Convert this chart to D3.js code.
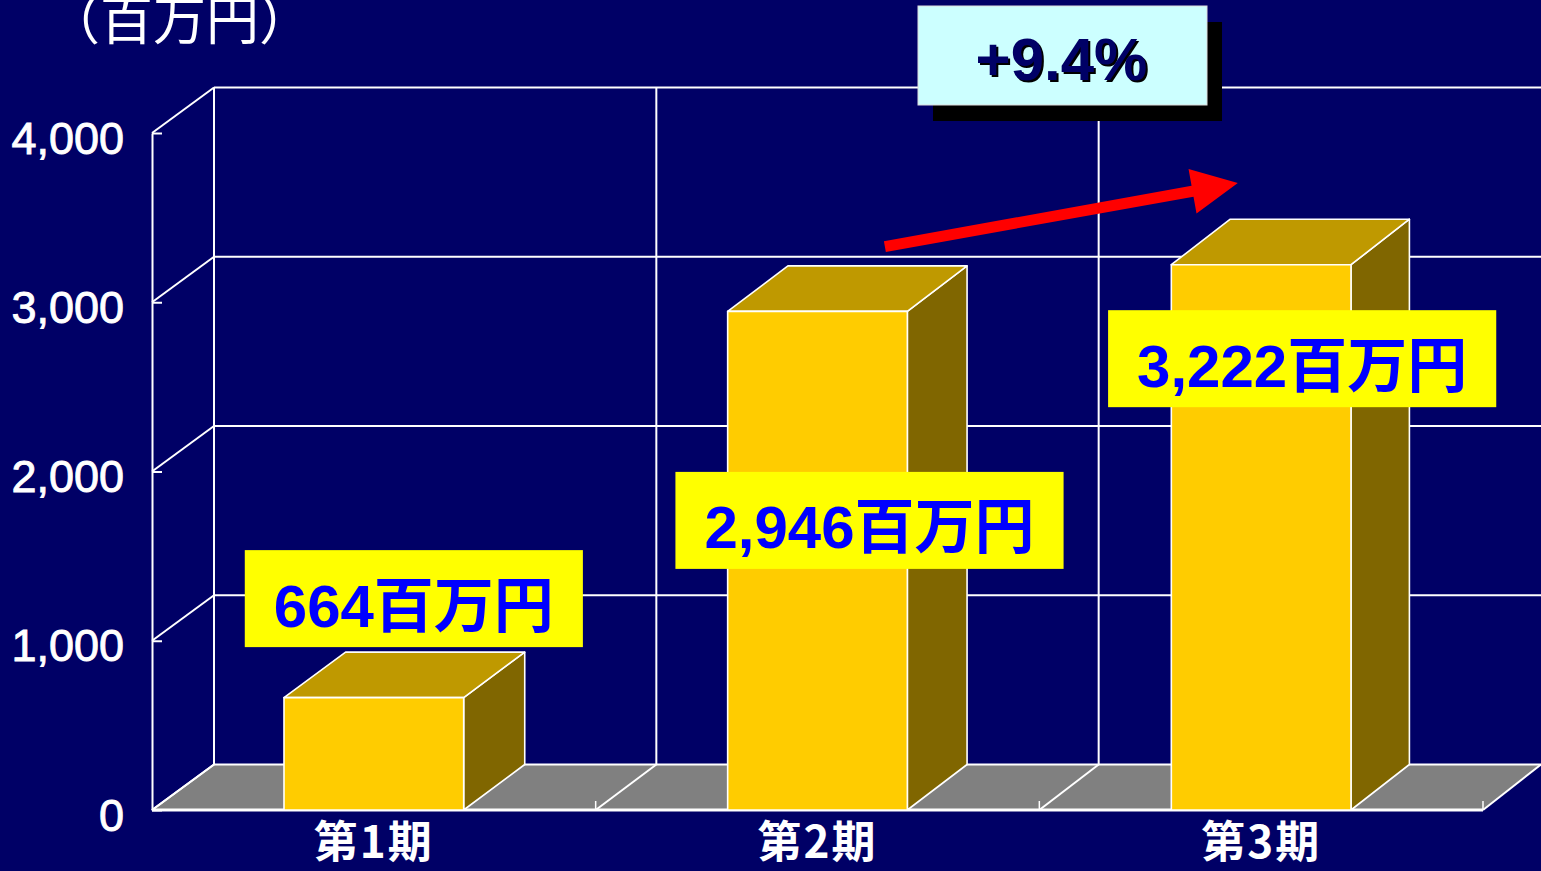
<!DOCTYPE html>
<html><head><meta charset="utf-8">
<script src="https://cdn.jsdelivr.net/npm/d3@7"></script>
<style>html,body{margin:0;padding:0;background:#000066;overflow:hidden}</style>
</head><body><svg id="chart" width="1541" height="871"></svg>
<script>
// ---- data ----
const categories = ["第1期", "第2期", "第3期"];
const values = [664, 2946, 3222];
const valueLabels = ["664百万円", "2,946百万円", "3,222百万円"];
const yTickValues = [0, 1000, 2000, 3000, 4000];
const yTickLabels = ["0", "1,000", "2,000", "3,000", "4,000"];
const unitText = "（百万円）";
const growthText = "+9.4%";

// ---- layout ----
const W = 1541, H = 871;
const svg = d3.select("#chart");
svg.append("rect").attr("width", W).attr("height", H).attr("fill", "#000066");

const y = d3.scaleLinear().domain([0, 4000]).range([810, 133]);
const x = d3.scaleBand().domain(categories).range([152, 1483])
  .paddingInner(0.595).paddingOuter(0.2975);
const [x0, x1] = x.range();
const depthX = d3.scaleLinear().domain([x0, x1]).range([x0 + 62, x1 + 58]);
const DY = -45.5;
const back = (px, py) => [depthX(px), py + DY];
const step = x.step();
const bounds = d3.range(categories.length + 1).map(i => x0 + i * step);
const WHITE = "#ffffff";
const line = d3.line();

const grid = svg.append("g").attr("fill", "none").attr("stroke", WHITE);

// floor
const y0 = y(0);
svg.insert("path", "g").attr("d", line([[x0, y0], [x1, y0], back(x1, y0), back(x0, y0)]) + "Z")
  .attr("fill", "#808080");

// back wall horizontal gridlines + side wall diagonals
yTickValues.forEach(v => {
  grid.append("path").attr("d", line([back(x0, y(v)), back(x1, y(v))])).attr("stroke-width", 2);
  grid.append("path").attr("d", line([[x0, y(v)], back(x0, y(v))])).attr("stroke-width", 2);
});
// back wall verticals
bounds.slice(0, categories.length).forEach(b => {
  grid.append("path").attr("d", line([back(b, y(4000)), back(b, y(0))])).attr("stroke-width", 2);
});
// floor diagonals
bounds.forEach(b => {
  grid.append("path").attr("d", line([[b, y0], back(b, y0)])).attr("stroke-width", 2);
});
// floor front edge + ticks
grid.append("path").attr("d", line([[x0, y0], [x1, y0]])).attr("stroke-width", 3);
bounds.slice(1).forEach(b => {
  grid.append("path").attr("d", line([[b, y0], [b, y0 - 9]])).attr("stroke-width", 1.5);
});

// y axis
const yAxis = d3.axisLeft(y).tickValues(yTickValues)
  .tickFormat((d, i) => yTickLabels[i]).tickSize(-10).tickSizeOuter(0).tickPadding(28);
const ag = svg.append("g").attr("transform", `translate(${x0},0)`).call(yAxis);
ag.select(".domain").attr("stroke", WHITE).attr("stroke-width", 2);
ag.selectAll(".tick line").attr("stroke", WHITE).attr("stroke-width", 2);
ag.selectAll(".tick text").attr("fill", WHITE)
  .attr("stroke", WHITE).attr("stroke-width", 0.9)
  .attr("font-family", "'Liberation Sans', Arial, sans-serif")
  .attr("font-size", 45).attr("dy", "0.445em");

// bars
const bw = x.bandwidth();
const bars = svg.append("g").attr("stroke", WHITE).attr("stroke-width", 1.6).attr("stroke-linejoin", "round");
categories.forEach((c, i) => {
  const fx0 = x(c), fx1 = fx0 + bw, top = y(values[i]), bot = y(0);
  bars.append("path").attr("d", line([[fx1, bot], [fx1, top], back(fx1, top), back(fx1, bot)]) + "Z")
    .attr("fill", "#806600");
  bars.append("path").attr("d", line([[fx0, top], [fx1, top], back(fx1, top), back(fx0, top)]) + "Z")
    .attr("fill", "#BF9900");
  bars.append("rect").attr("x", fx0).attr("y", top).attr("width", bw).attr("height", bot - top)
    .attr("fill", "#FFCC00");
});

// x labels
svg.append("g").selectAll("text").data(categories).join("text")
  .attr("x", d => x(d) + bw / 2).attr("y", 858)
  .attr("text-anchor", "middle").attr("fill", WHITE)
  .attr("font-family", "'Noto Sans CJK JP', sans-serif").attr("font-weight", "bold")
  .attr("font-size", 44).attr("letter-spacing", 2).text(d => d);

// unit label
svg.append("text").attr("x", 47).attr("y", 40).attr("fill", WHITE)
  .attr("font-family", "'Noto Sans CJK JP', sans-serif").attr("font-size", 53).text(unitText);

// arrow
const tail = [x(categories[1]) + bw * 0.875, y(3329)];
const tip = [x(categories[2]) + bw * 0.37, y(3704)];
{
  const dx = tip[0] - tail[0], dy = tip[1] - tail[1], L = Math.hypot(dx, dy);
  const ux = dx / L, uy = dy / L, nx = -uy, ny = ux;
  const hw = 5.5, headL = 46, headW = 22.5;
  const P = (a, b) => [tail[0] + ux * a + nx * b, tail[1] + uy * a + ny * b];
  const pts = [P(0, -hw), P(L - headL, -hw), P(L - headL, -headW), P(L, 0),
               P(L - headL, headW), P(L - headL, hw), P(0, hw)];
  svg.append("path").attr("d", line(pts) + "Z").attr("fill", "#FF0000");
}

// value labels
const labelOffsets = [[40, -99], [52, 209], [41, 94]];
categories.forEach((c, i) => {
  const cx = x(c) + bw / 2 + labelOffsets[i][0];
  const cy = y(values[i]) + labelOffsets[i][1];
  const g = svg.append("g");
  const r = g.append("rect").attr("fill", "#FFFF00");
  const t = g.append("text").attr("x", cx).attr("y", cy + 28).attr("text-anchor", "middle")
    .attr("fill", "#0000FF").attr("font-weight", "bold").attr("font-size", 60)
    .attr("font-family", "'Liberation Sans', 'Noto Sans CJK JP', sans-serif")
    .text(valueLabels[i]);
  const tw = t.node().getComputedTextLength();
  const bwid = tw + 58, bh = 97;
  r.attr("x", cx - bwid / 2).attr("y", cy - bh / 2).attr("width", bwid).attr("height", bh);
});

// growth box
{
  const bx = 918, by = 6, bwid = 289, bh = 99;
  svg.append("rect").attr("x", bx + 15).attr("y", by + 16).attr("width", bwid).attr("height", bh).attr("fill", "#000000");
  svg.append("rect").attr("x", bx).attr("y", by).attr("width", bwid).attr("height", bh)
    .attr("fill", "#CCFFFF").attr("stroke", "#dddddd").attr("stroke-width", 1);
  const tx = bx + bwid / 2 - 1, ty = 80;
  svg.append("text").attr("x", tx + 2).attr("y", ty + 2).attr("text-anchor", "middle")
    .attr("fill", "#000000").attr("font-weight", "bold").attr("font-size", 60)
    .attr("font-family", "'Liberation Sans', Arial, sans-serif").text(growthText);
  svg.append("text").attr("x", tx).attr("y", ty).attr("text-anchor", "middle")
    .attr("fill", "#000066").attr("font-weight", "bold").attr("font-size", 60)
    .attr("font-family", "'Liberation Sans', Arial, sans-serif").text(growthText);
}
</script></body></html>
